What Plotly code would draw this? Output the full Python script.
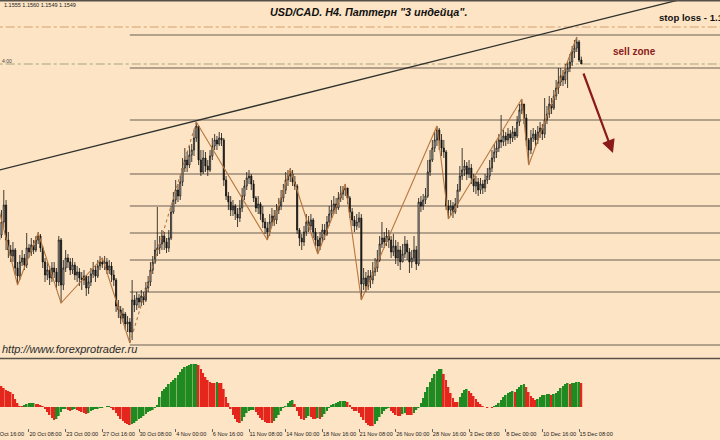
import plotly.graph_objects as go

# ---------------- data ----------------
first_open = 1.12850
close = [1.12925,1.13120,1.13375,1.12850,1.12700,1.12610,1.12700,1.12430,1.12310,
1.12520,1.12580,1.12475,1.12730,1.12670,1.12775,1.12700,1.12850,1.12910,
1.12730,1.12520,1.12325,1.12400,1.12280,1.12430,1.12370,1.12220,1.12850,1.12175,
1.12430,1.12580,1.12520,1.12400,1.12475,1.12325,1.12370,1.12280,1.12250,1.12310,1.12130,1.12220,1.12340,1.12400,1.12310,1.12460,1.12520,1.12490,
1.12520,1.12400,1.12460,1.12325,1.12250,1.11860,1.11800,1.11680,1.11740,1.11590,1.11620,1.11470,
1.11950,1.11875,1.11980,1.11920,1.12010,1.11950,1.12130,1.12220,1.12400,1.12520,1.12700,1.12730,1.12790,1.12910,1.12820,1.12730,1.12880,1.13270,1.13450,1.13600,1.13510,1.13720,1.13930,1.14050,1.13975,1.14125,1.14200,1.14380,1.14560,
1.14050,1.13870,1.14080,1.13960,1.13900,1.14110,1.14260,1.14350,1.14290,1.14380,1.14350,1.13750,1.13510,1.13420,1.13300,1.13360,1.13240,1.13180,1.13330,1.13510,1.13660,1.13780,1.13810,1.13690,1.13480,1.13330,1.13390,1.13240,1.13120,1.13030,1.12970,
1.13120,1.13210,1.13150,1.13300,1.13360,1.13480,1.13600,1.13750,1.13810,1.13840,
1.13720,1.13660,1.13000,1.12880,1.12820,1.12970,1.13120,1.13060,1.13150,1.12970,1.12850,1.12760,
1.12880,1.13000,1.12940,1.13120,1.13240,1.13300,1.13390,1.13330,1.13480,1.13540,1.13600,1.13630,
1.13480,1.13270,1.13150,1.13060,1.13120,1.13180,1.12190,
1.12280,1.12160,1.12310,1.12250,1.12370,1.12430,1.12550,1.12790,1.12880,1.12820,1.12910,1.12850,1.12670,1.12760,1.12580,1.12700,1.12520,1.12640,1.12790,1.12670,1.12520,1.12580,1.12700,1.12490,1.13420,1.13360,1.13450,1.13510,1.13870,1.14050,1.14230,1.14350,1.14500,
1.14350,1.14230,1.14170,1.13360,1.13300,
1.13360,1.13270,1.13390,1.13600,1.13810,1.13900,1.13960,1.13840,1.13930,1.13780,1.13660,1.13720,1.13600,1.13690,1.13630,1.13750,1.13810,1.13930,1.14080,1.14170,1.14230,1.14350,1.14320,1.14410,1.14350,1.14440,1.14380,1.14470,1.14410,1.14620,1.14800,1.14890,
1.14680,1.14350,1.14200,
1.14380,1.14440,1.14350,1.14470,1.14530,1.14440,1.14650,1.14740,1.14890,1.14830,1.15010,1.15130,1.15220,1.15310,1.15250,1.15370,1.15430,1.15520,1.15670,1.15730,1.15820,1.15550,1.15490]

high = [1.13225,1.13300,1.13600,1.13450,1.12970,1.12775,1.12820,1.12730,1.12520,
1.12625,1.12700,1.12640,1.12955,1.12790,1.12880,1.12850,1.12910,1.12970,
1.12940,1.12760,1.12580,1.12520,1.12460,1.12520,1.12520,1.12430,1.12910,1.12880,
1.12550,1.12700,1.12640,1.12580,1.12580,1.12520,1.12460,1.12430,1.12370,1.12400,1.12325,1.12310,1.12430,1.12520,1.12460,1.12550,1.12610,1.12580,
1.12610,1.12580,1.12550,1.12520,1.12400,1.12280,1.11950,1.11860,1.11830,1.11770,1.11710,1.11680,
1.12250,1.12025,1.12070,1.12040,1.12100,1.12070,1.12220,1.12310,1.12520,1.12610,1.12850,1.13345,1.12910,1.13000,1.12970,1.12880,1.13000,1.13360,1.13570,1.13750,1.13690,1.13810,1.14080,1.14230,1.14170,1.14260,1.14290,1.14500,1.14620,
1.14560,1.14200,1.14200,1.14170,1.14050,1.14200,1.14380,1.14440,1.14410,1.14470,1.14455,1.14380,1.13810,1.13570,1.13510,1.13450,1.13390,1.13330,1.13450,1.13630,1.13750,1.13870,1.13900,1.13840,1.13750,1.13510,1.13510,1.13420,1.13360,1.13180,1.13120,
1.13240,1.13330,1.13300,1.13390,1.13480,1.13600,1.13690,1.13870,1.13900,1.13930,
1.13900,1.13810,1.13690,1.13030,1.12940,1.13060,1.13240,1.13210,1.13240,1.13180,1.13030,1.12910,
1.12970,1.13090,1.13090,1.13210,1.13360,1.13450,1.13510,1.13480,1.13570,1.13660,1.13660,1.13690,
1.13630,1.13510,1.13330,1.13210,1.13240,1.13270,1.13240,
1.12430,1.12370,1.12400,1.12400,1.12520,1.12580,1.12700,1.12910,1.13120,1.12970,1.13030,1.13000,1.12910,1.12940,1.12850,1.12820,1.12760,1.12790,1.12910,1.12850,1.12730,1.12700,1.12910,1.12760,1.13480,1.13510,1.13540,1.13630,1.14050,1.14200,1.14350,1.14470,1.14560,
1.14530,1.14440,1.14350,1.14200,1.13450,
1.13450,1.13420,1.13480,1.13690,1.13960,1.14230,1.14050,1.14020,1.14050,1.13990,1.13840,1.13810,1.13780,1.13780,1.13750,1.13840,1.13930,1.14050,1.14200,1.14290,1.14350,1.14440,1.14725,1.14500,1.14470,1.14530,1.14500,1.14560,1.14530,1.14710,1.14890,1.14965,
1.14890,1.14740,1.14380,
1.14500,1.14530,1.14500,1.14560,1.14620,1.14590,1.14980,1.14860,1.15010,1.14980,1.15100,1.15250,1.15430,1.15430,1.15400,1.15490,1.15520,1.15640,1.15760,1.15850,1.15895,1.15850,1.15600]

low = [1.12775,1.12880,1.13030,1.12700,1.12580,1.12520,1.12520,1.12325,1.12175,
1.12250,1.12460,1.12400,1.12430,1.12580,1.12610,1.12640,1.12670,1.12790,
1.12670,1.12430,1.12220,1.12250,1.12175,1.12220,1.12280,1.12100,1.12160,1.11905,
1.12100,1.12370,1.12430,1.12325,1.12340,1.12250,1.12220,1.12160,1.12100,1.12175,1.12010,1.12040,1.12160,1.12280,1.12220,1.12280,1.12400,1.12430,
1.12400,1.12340,1.12340,1.12220,1.12160,1.11770,1.11680,1.11590,1.11620,1.11500,1.11470,1.11305,
1.11350,1.11770,1.11800,1.11830,1.11860,1.11875,1.11920,1.12070,1.12160,1.12340,1.12490,1.12610,1.12640,1.12700,1.12700,1.12655,1.12670,1.12850,1.13240,1.13390,1.13420,1.13450,1.13660,1.13870,1.13870,1.13930,1.14020,1.14110,1.14320,
1.13975,1.13810,1.13840,1.13870,1.13810,1.13870,1.14050,1.14200,1.14200,1.14260,1.14260,1.13660,1.13450,1.13300,1.13210,1.13210,1.13150,1.13045,1.13120,1.13270,1.13450,1.13600,1.13690,1.13600,1.13420,1.13270,1.13240,1.13150,1.13030,1.12940,1.12850,
1.12910,1.13060,1.13060,1.13090,1.13240,1.13300,1.13420,1.13540,1.13660,1.13720,
1.13660,1.13600,1.12940,1.12760,1.12700,1.12760,1.12910,1.12970,1.13000,1.12880,1.12760,1.12640,
1.12700,1.12820,1.12850,1.12910,1.13060,1.13180,1.13240,1.13240,1.13300,1.13420,1.13450,1.13510,
1.13390,1.13180,1.13060,1.12970,1.13000,1.13030,1.11950,
1.12100,1.12070,1.12100,1.12130,1.12190,1.12310,1.12370,1.12520,1.12730,1.12730,1.12760,1.12730,1.12580,1.12610,1.12490,1.12460,1.12400,1.12520,1.12580,1.12550,1.12355,1.12430,1.12520,1.12400,1.12460,1.13270,1.13300,1.13390,1.13480,1.13810,1.14020,1.14170,1.14260,
1.14200,1.14110,1.14080,1.13300,1.13165,
1.13210,1.13180,1.13240,1.13330,1.13570,1.13750,1.13810,1.13750,1.13780,1.13690,1.13570,1.13540,1.13510,1.13540,1.13540,1.13570,1.13690,1.13750,1.13870,1.14020,1.14080,1.14170,1.14230,1.14260,1.14260,1.14290,1.14290,1.14320,1.14350,1.14380,1.14560,1.14740,
1.14590,1.14260,1.13975,
1.14140,1.14320,1.14260,1.14290,1.14380,1.14350,1.14380,1.14590,1.14680,1.14740,1.14800,1.14950,1.15040,1.15160,1.15160,1.15190,1.15130,1.15370,1.15460,1.15580,1.15670,1.15520,1.15490]

# oscillator histogram (pips)
osc = [23,21,19,17,16,15,13,8,4,1,
1,2,3,4,4,4,3,3,2,1,
-2,-5,-8,-11,-13,-12,-9,-5,-2,
-2,-3,-4,-3,-2,-3,-4,-5,-6,-7,-6,
-4,-3,-2,-2,-1,-1,0,1,1,-1,
-3,-6,-9,-12,-14,-16,-17,-18,-17,
-16,-14,-12,-11,-9,-7,-5,-4,-3,-1,
2,10,16,18,20,23,25,27,29,32,35,
38,40,41,42,43,43,43,42,
38,34,30,27,25,24,24,25,24,24,
18,10,4,-2,
-8,-12,-15,-16,-14,-10,-6,-4,
-3,-3,-5,-8,-11,-13,-15,-16,-16,-16,-14,
-11,-8,-4,-1,1,4,6,7,3,
-4,-9,-12,-13,-11,-9,-10,-12,-12,-11,
-12,-10,-7,-4,-1,
2,3,4,5,6,6,6,5,2,
-2,-4,-4,-6,
-10,-13,-16,-18,-19,-19,-17,-14,-10,-7,-4,-2,-1,
-4,-6,-8,-9,-9,-7,-6,-8,-8,-8,-6,-3,-1,
4,9,15,20,25,29,33,36,38,38,
33,27,20,14,9,5,5,
10,14,17,18,16,
14,11,8,5,3,1,0,-1,0,-1,1,2,
4,7,10,12,14,15,16,15,18,20,22,23,
20,15,11,9,7,8,
10,12,12,13,13,12,13,14,16,
19,21,23,24,23,24,24,25,25,24]

# zigzag pivots (bar index, price)
zz_idx = [-2, 8, 17, 27, 45, 57]
zz_price = [1.13570, 1.12175, 1.12955, 1.11905, 1.12580, 1.11305]
zz_dot_idx = [57, 86]
zz_dot_price = [1.11305, 1.14620]
zz2_idx = [86, 117, 127, 139, 151, 158, 191, 196, 228, 231, 252]
zz2_price = [1.14620, 1.12850, 1.13915, 1.12640, 1.13690, 1.11950, 1.14560, 1.13165, 1.14965, 1.13975, 1.15895]

# trend line
trend_idx = [0, 315]
trend_price = [1.13900, 1.16610]

# horizontal levels
fib_levels = [1.15925, 1.15430, 1.14650, 1.13840, 1.13360, 1.12955, 1.12550, 1.12070, 1.11275]
fib_start = 57
stop_level = 1.16045
entry_level = 1.15490

# projected move arrow (bar index, price)
arrow_idx = [254.7, 267.8]
arrow_price = [1.15370, 1.14155]

tick_idx = [13 + 16 * k for k in range(16)]
tick_text = ["20 Oct 08:00", "23 Oct 00:00", "27 Oct 16:00", "30 Oct 08:00", "4 Nov 00:00",
             "6 Nov 16:00", "11 Nov 08:00", "14 Nov 00:00", "18 Nov 16:00", "21 Nov 08:00",
             "26 Nov 00:00", "28 Nov 16:00", "3 Dec 08:00", "8 Dec 00:00", "10 Dec 16:00",
             "15 Dec 08:00"]

# ---------------- figure ----------------
BG = "#FCE4C4"
n = len(close)
idx = list(range(n))
opens = [first_open] + close[:-1]

fig = go.Figure()

shapes = []
for lv in fib_levels:
    shapes.append(dict(type="line", xref="x", yref="y", x0=fib_start, x1=330, y0=lv, y1=lv,
                       line=dict(color="#6A5F55", width=1), layer="below"))
shapes.append(dict(type="line", xref="x", yref="y", x0=-5, x1=330, y0=stop_level, y1=stop_level,
                   line=dict(color="#D6A072", width=1, dash="dashdot"), layer="below"))
shapes.append(dict(type="line", xref="x", yref="y", x0=-5, x1=330, y0=entry_level, y1=entry_level,
                   line=dict(color="#A4A47E", width=1, dash="dashdot"), layer="below"))
shapes.append(dict(type="line", xref="paper", yref="paper", x0=0, x1=1, y0=1 - 0.8 / 440, y1=1 - 0.8 / 440,
                   line=dict(color="#555049", width=1.5)))
shapes.append(dict(type="line", xref="paper", yref="paper", x0=0, x1=1, y0=1 - 358.5 / 440, y1=1 - 358.5 / 440,
                   line=dict(color="#5A534C", width=1.5)))

fig.add_trace(go.Scatter(x=trend_idx, y=trend_price, mode="lines",
                         line=dict(color="#2E312C", width=1.3), hoverinfo="skip", showlegend=False,
                         xaxis="x", yaxis="y"))
fig.add_trace(go.Candlestick(x=idx, open=opens, high=high, low=low, close=close,
                             increasing=dict(line=dict(color="#111111", width=0.8), fillcolor="#F4F0EA"),
                             decreasing=dict(line=dict(color="#111111", width=0.8), fillcolor="#111111"),
                             whiskerwidth=0, showlegend=False, xaxis="x", yaxis="y"))
fig.add_trace(go.Scatter(x=zz_idx, y=zz_price, mode="lines",
                         line=dict(color="#B8763E", width=1.1), hoverinfo="skip", showlegend=False,
                         xaxis="x", yaxis="y"))
fig.add_trace(go.Scatter(x=zz_dot_idx, y=zz_dot_price, mode="lines",
                         line=dict(color="#B8763E", width=1.1, dash="dot"), hoverinfo="skip",
                         showlegend=False, xaxis="x", yaxis="y"))
fig.add_trace(go.Scatter(x=zz2_idx, y=zz2_price, mode="lines",
                         line=dict(color="#B8763E", width=1.1), hoverinfo="skip", showlegend=False,
                         xaxis="x", yaxis="y"))

# oscillator colours: green when rising, red when falling
colors = []
prev_c = "#1F8A1F"
for k, v in enumerate(osc):
    if k > 0 and v > osc[k - 1]:
        prev_c = "#1F8A1F"
    elif k > 0 and v < osc[k - 1]:
        prev_c = "#E5261C"
    colors.append(prev_c)
fig.add_trace(go.Bar(x=list(range(len(osc))), y=osc, marker=dict(color=colors, line=dict(width=0)),
                     showlegend=False, xaxis="x2", yaxis="y2", hoverinfo="skip"))

xr = [0.35, 314.5]
fig.update_layout(
    width=720, height=440,
    margin=dict(l=0, r=0, t=0, b=0),
    paper_bgcolor=BG, plot_bgcolor=BG,
    bargap=0.25,
    shapes=shapes,
    xaxis=dict(domain=[0, 1], range=xr, anchor="y", showticklabels=False, showgrid=False,
               zeroline=False, rangeslider=dict(visible=False), fixedrange=True),
    yaxis=dict(domain=[1 - 358 / 440, 1], range=[1.1108, 1.1645], showticklabels=False,
               showgrid=False, zeroline=False),
    xaxis2=dict(domain=[0, 1], range=xr, anchor="y2", matches="x", showgrid=False, zeroline=False,
                tickmode="array", tickvals=tick_idx, ticktext=tick_text, ticks="outside",
                ticklen=3, tickcolor="#666", ticklabelposition="outside right", tickangle=0,
                tickfont=dict(family="Liberation Sans", size=5.6, color="#222"),
                showline=False),
    yaxis2=dict(domain=[12 / 440, 80 / 440], range=[-21, 47], showticklabels=False,
                showgrid=False, zeroline=False),
)

ann = [
    dict(xref="paper", yref="paper", x=369 / 720, y=1 - 12 / 440, xanchor="center", yanchor="middle",
         text='<b><i>USD/CAD. H4. Паттерн "3 индейца".</i></b>', showarrow=False,
         font=dict(family="Liberation Sans", size=10.8, color="#111")),
    dict(xref="paper", yref="paper", x=2 / 720, y=1 - 5 / 440, xanchor="left", yanchor="middle",
         text="1.1555 1.1560 1.1549 1.1549", showarrow=False,
         font=dict(family="Liberation Sans", size=5.5, color="#222")),
    dict(xref="paper", yref="paper", x=657 / 720, y=1 - 18 / 440, xanchor="left", yanchor="middle",
         text="<b>stop loss - 1.1605</b>", showarrow=False,
         font=dict(family="Liberation Sans", size=9.6, color="#111")),
    dict(xref="paper", yref="paper", x=611 / 720, y=1 - 52 / 440, xanchor="left", yanchor="middle",
         text="<b>sell zone</b>", showarrow=False,
         font=dict(family="Liberation Sans", size=10, color="#8B1A1A")),
    dict(xref="paper", yref="paper", x=0, y=1 - 349 / 440, xanchor="left", yanchor="middle",
         text="<i>http://www.forexprotrader.ru</i>", showarrow=False,
         font=dict(family="Liberation Sans", size=11, color="#2A2A2A")),
    dict(xref="paper", yref="paper", x=0, y=1 - 61 / 440, xanchor="left", yanchor="middle",
         text="4:00", showarrow=False,
         font=dict(family="Liberation Sans", size=5, color="#444")),
    dict(xref="paper", yref="paper", x=-10 / 720, y=1 - 434 / 440, xanchor="left", yanchor="middle",
         text="15 Oct 16:00", showarrow=False,
         font=dict(family="Liberation Sans", size=5.6, color="#222")),
    dict(xref="x", yref="y", x=arrow_idx[1], y=arrow_price[1], axref="x", ayref="y",
         ax=arrow_idx[0], ay=arrow_price[0], text="", showarrow=True, arrowhead=2,
         arrowsize=1.2, arrowwidth=2.2, arrowcolor="#8B1A1A"),
]
fig.update_layout(annotations=ann)

fig.write_html("out.html", config={"displayModeBar": False},
               post_script="document.body.style.margin='0';document.body.style.padding='0';")
